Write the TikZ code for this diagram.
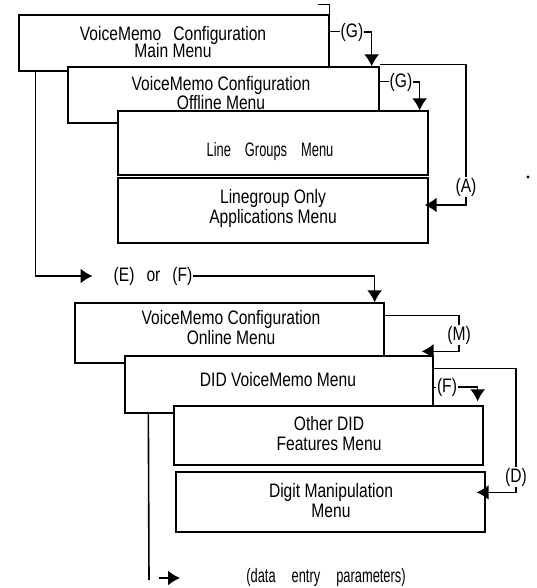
\documentclass[tikz,border=0pt]{standalone}
\usepackage{fontspec}
\setmainfont{Liberation Sans}[FakeStretch=0.8]
\newfontfamily\lightfont{Liberation Sans}[FakeStretch=0.66]
\usetikzlibrary{arrows.meta,calc}
\tikzset{
  menubox/.style={draw, fill=white, line width=1.3pt, inner sep=0pt},
  menutext/.style={align=center, font=\fontsize{19.5}{20}\selectfont, inner sep=0pt},
  tag/.style={font=\fontsize{19.5}{20}\selectfont, inner sep=1pt},
  link/.style={line width=1.6pt},
  stub/.style={line width=1pt},
}
\begin{document}
\begin{tikzpicture}[x=1pt, y=-1pt, >={Latex[length=12pt,width=15pt]}]
    \useasboundingbox (0,0) rectangle (537,588);
    \node[menubox, minimum width=310pt, minimum height=56pt] (mainmenu) at (174,43) {};
    \draw[stub] ($(mainmenu.north east)+(-12,-10)$) -- ++(12,0) -- (mainmenu.north east);
    \node[menutext] at (173,42) {VoiceMemo\hspace{12pt}Configuration\\[-3pt]Main Menu};
    \node[menubox, minimum width=311pt, minimum height=56pt] (offline) at (223.5,95) {};
    \node[menutext] at (221,93.5) {VoiceMemo Configuration\\[-1pt]Offline Menu};
    \node[menubox, minimum width=310pt, minimum height=64pt] (linegroups) at (273,143) {};
    \node[menutext, font=\lightfont\fontsize{19.5}{20}\selectfont] at (270,151) {Line\hspace{14pt}Groups\hspace{14pt}Menu};
    \node[menubox, minimum width=310pt, minimum height=65pt] (lgonly) at (273,210.5) {};
    \node[menutext] at (273,208.5) {Linegroup Only\\Applications Menu};
    \node[menubox, minimum width=309pt, minimum height=60pt] (online) at (229.5,333) {};
    \node[menutext] at (231,327.5) {VoiceMemo Configuration\\Online Menu};
    \node[menubox, minimum width=308pt, minimum height=57pt] (didmenu) at (279,384.5) {};
    \node[menutext] at (278,380) {DID VoiceMemo Menu};
    \node[menubox, minimum width=309pt, minimum height=59pt] (otherdid) at (328.5,435.5) {};
    \node[menutext] at (329,434) {Other DID\\Features Menu};
    \node[menubox, minimum width=309pt, minimum height=60pt] (digitman) at (330.5,502) {};
    \node[menutext] at (331,501) {Digit Manipulation\\Menu};

    \node[tag] (lG1) at (352,32) {(G)};
    \node[tag] (lG2) at (401,82) {(G)};
    \node[tag] (lA) at (466,187) {(A)};
    \node[tag] (lEF) at (153,276) {(E)\hspace{12pt}or\hspace{12pt}(F)};
    \node[tag] (lM) at (459,335) {(M)};
    \node[tag] (lF) at (447,387) {(F)};
    \node[tag] (lD) at (516,477) {(D)};
    \node[tag, font=\lightfont\fontsize{19.5}{20}\selectfont] (ldata) at (326,577) {(data\hspace{16pt}entry\hspace{16pt}parameters)};

    \draw[stub] (lG1 -| mainmenu.east) -- (lG1.west);
    \draw[->, link] (lG1.east) -| ($(offline.north east)+(-8,0)$);
    \draw[stub] (lG2 -| offline.east) -- (lG2.west);
    \draw[->, link] (lG2.east) -| ($(linegroups.north east)+(-9,0)$);
    \draw[link] ($(offline.north east)+(0,-2)$) -| (lA.north);
    \draw[->, link] (lA.south) |- ($(lgonly.east)+(-4,-5.5)$);
    \draw[->, link] ($(mainmenu.south west)+(17,0)$) |- ($(lEF.west)+(-20,0)$);
    \draw[->, link] (lEF.east) -| ($(online.north east)+(-10,0)$);
    \draw[link] ($(online.north east)+(0,13)$) -| (lM.north);
    \draw[->, link] (lM.south) |- ($(didmenu.north east)+(-12,-4)$);
    \draw[stub] (lF -| didmenu.east) -- (lF.west);
    \draw[->, link] (lF.east) -| ($(otherdid.north east)+(-6,-4)$);
    \draw[link] ($(didmenu.north east)+(0,13)$) -| (lD.north);
    \draw[->, link] (lD.south) |- ($(digitman.north east)+(-9,21)$);
    \coordinate (bottomend) at (149,580);
    \draw[link] ($(didmenu.south west)+(24,0)$) -- (bottomend);
    \coordinate (pin) at (159,578);
    \draw[->, link] (pin) -- ++(21,0);
    \fill (528,177) circle (1.6);
\end{tikzpicture}
\end{document}
